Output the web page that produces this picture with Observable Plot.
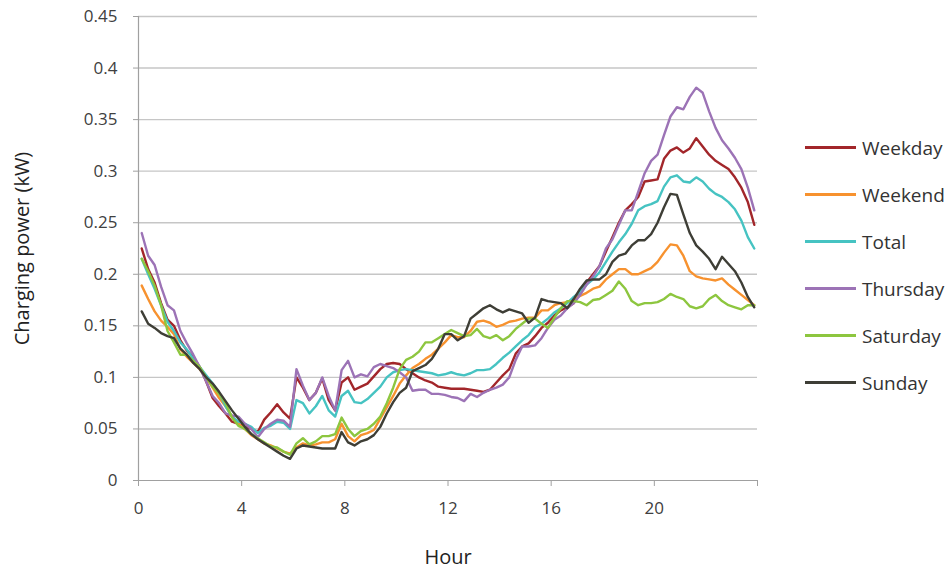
<!DOCTYPE html>
<html><head><meta charset="utf-8">
<script src="https://cdn.jsdelivr.net/npm/d3@7"></script>
<script src="https://cdn.jsdelivr.net/npm/@observablehq/plot@0.6"></script>
<style>
body{margin:0;background:#fff;font-family:"Open Sans",sans-serif;}
#wrap{position:relative;width:947px;height:574px;}
#legend{position:absolute;left:805px;top:124px;}
.item{display:flex;align-items:center;height:47px;}
.sw{width:51px;height:3px;margin-right:6px;}
.lab{font-size:19px;color:#333;}
</style></head><body>
<div id="wrap"><div id="chart"></div><div id="legend"></div></div>
<script>
// quarter-hour time grid (interval midpoints)
const hours = d3.range(96).map(i => 0.125 + i * 0.25);

const seriesNames = ["Weekday", "Weekend", "Total", "Thursday", "Saturday", "Sunday"];
const seriesColors = ["#A2262A", "#F7922F", "#46C3C2", "#9C73B6", "#8DC63F", "#3E3E36"];
const xTicks = [0, 4, 8, 12, 16, 20, 24];
const yTicks = [0, 0.05, 0.1, 0.15, 0.2, 0.25, 0.3, 0.35, 0.4, 0.45];

const weekday = [0.225,0.205,0.192,0.172,0.156,0.15,0.136,0.126,0.12,0.11,0.096,0.08,0.072,0.065,0.057,0.055,
0.052,0.05,0.047,0.059,0.066,0.074,0.066,0.06,0.1,0.09,0.078,0.085,0.099,0.078,0.068,0.095,
0.1,0.088,0.091,0.094,0.101,0.108,0.113,0.114,0.113,0.108,0.104,0.1,0.097,0.095,0.091,0.09,
0.089,0.089,0.089,0.088,0.087,0.086,0.088,0.095,0.102,0.108,0.123,0.13,0.133,0.14,0.148,0.153,
0.16,0.165,0.168,0.172,0.182,0.192,0.2,0.208,0.222,0.236,0.25,0.262,0.268,0.275,0.29,0.291,
0.292,0.312,0.32,0.323,0.318,0.322,0.332,0.324,0.316,0.31,0.306,0.302,0.294,0.284,0.27,0.248];

const weekend = [0.189,0.176,0.164,0.155,0.149,0.142,0.127,0.12,0.114,0.108,0.1,0.09,0.08,0.072,0.062,0.055,
0.05,0.044,0.04,0.036,0.034,0.031,0.028,0.026,0.032,0.036,0.034,0.035,0.037,0.037,0.04,0.055,
0.043,0.038,0.044,0.046,0.049,0.06,0.071,0.082,0.094,0.102,0.109,0.113,0.118,0.122,0.128,0.134,
0.141,0.139,0.139,0.145,0.154,0.155,0.153,0.149,0.151,0.154,0.155,0.157,0.158,0.158,0.165,0.165,
0.17,0.172,0.173,0.176,0.179,0.182,0.186,0.188,0.195,0.2,0.205,0.205,0.2,0.2,0.203,0.206,
0.212,0.221,0.229,0.228,0.218,0.203,0.198,0.196,0.195,0.194,0.196,0.19,0.185,0.18,0.175,0.17];

const total = [0.215,0.2,0.186,0.17,0.154,0.145,0.134,0.127,0.118,0.11,0.102,0.094,0.085,0.072,0.062,0.057,
0.055,0.052,0.046,0.051,0.053,0.057,0.056,0.05,0.078,0.075,0.065,0.072,0.082,0.068,0.062,0.082,
0.087,0.076,0.075,0.079,0.085,0.091,0.1,0.105,0.107,0.108,0.107,0.106,0.105,0.104,0.102,0.103,
0.105,0.103,0.102,0.104,0.107,0.107,0.108,0.113,0.119,0.124,0.13,0.136,0.141,0.149,0.152,0.157,
0.163,0.167,0.172,0.178,0.183,0.19,0.195,0.202,0.212,0.222,0.231,0.239,0.249,0.262,0.266,0.268,
0.271,0.285,0.294,0.296,0.29,0.289,0.294,0.29,0.283,0.278,0.275,0.27,0.263,0.252,0.236,0.225];

const thursday = [0.24,0.218,0.209,0.188,0.17,0.165,0.145,0.133,0.122,0.11,0.096,0.082,0.075,0.065,0.063,0.062,
0.055,0.05,0.042,0.05,0.055,0.059,0.058,0.052,0.108,0.092,0.078,0.085,0.1,0.082,0.068,0.107,
0.116,0.1,0.103,0.101,0.11,0.113,0.111,0.109,0.105,0.1,0.087,0.088,0.088,0.084,0.084,0.083,
0.081,0.08,0.077,0.084,0.081,0.085,0.088,0.09,0.093,0.1,0.117,0.13,0.13,0.131,0.138,0.148,
0.156,0.16,0.167,0.172,0.18,0.19,0.198,0.208,0.225,0.234,0.248,0.262,0.262,0.28,0.298,0.31,
0.316,0.335,0.353,0.362,0.36,0.372,0.381,0.376,0.358,0.342,0.33,0.322,0.313,0.302,0.284,0.262];

const saturday = [0.215,0.203,0.189,0.17,0.145,0.134,0.122,0.122,0.116,0.11,0.1,0.091,0.084,0.075,0.061,0.053,
0.05,0.045,0.041,0.037,0.033,0.032,0.028,0.025,0.036,0.041,0.035,0.038,0.043,0.043,0.045,0.061,
0.05,0.043,0.048,0.05,0.055,0.062,0.075,0.09,0.108,0.117,0.12,0.125,0.134,0.134,0.138,0.142,
0.146,0.143,0.14,0.141,0.147,0.14,0.138,0.141,0.136,0.14,0.147,0.152,0.157,0.157,0.152,0.148,
0.158,0.167,0.174,0.174,0.173,0.17,0.175,0.176,0.18,0.184,0.193,0.186,0.174,0.17,0.172,0.172,
0.173,0.176,0.181,0.178,0.176,0.169,0.167,0.169,0.176,0.18,0.174,0.17,0.168,0.166,0.17,0.17];

const sunday = [0.164,0.152,0.148,0.143,0.14,0.138,0.128,0.122,0.114,0.108,0.1,0.094,0.086,0.077,0.068,0.06,
0.052,0.045,0.04,0.036,0.032,0.028,0.024,0.021,0.031,0.034,0.033,0.032,0.031,0.031,0.031,0.047,
0.037,0.034,0.038,0.04,0.044,0.052,0.065,0.076,0.085,0.09,0.106,0.109,0.112,0.118,0.128,0.142,
0.142,0.136,0.14,0.157,0.162,0.167,0.17,0.166,0.163,0.166,0.164,0.162,0.153,0.158,0.176,0.174,
0.173,0.172,0.167,0.176,0.186,0.194,0.195,0.195,0.2,0.212,0.218,0.22,0.228,0.233,0.233,0.239,
0.25,0.265,0.278,0.277,0.258,0.24,0.228,0.222,0.215,0.205,0.217,0.21,0.203,0.192,0.178,0.168];

const seriesValues = [weekday, weekend, total, thursday, saturday, sunday];
const rows = [];
seriesNames.forEach((name, s) => {
  seriesValues[s].forEach((v, i) => rows.push({series: name, hour: hours[i], value: v}));
});

const font = '"Open Sans", sans-serif';
const chart = Plot.plot({
  width: 947,
  height: 574,
  marginLeft: 138,
  marginRight: 190,
  marginTop: 16,
  marginBottom: 94,
  style: {fontFamily: font, fontSize: "17px", color: "#404040", background: "#fff"},
  x: {domain: [0, 24]},
  y: {domain: [0, 0.45]},
  color: {domain: seriesNames, range: seriesColors},
  marks: [
    Plot.gridY(yTicks.slice(1), {stroke: "#c6c6c6", strokeOpacity: 1, strokeWidth: 1.4}),
    Plot.ruleX([0], {stroke: "#a0a0a0", strokeWidth: 1.2}),
    Plot.ruleY([0], {stroke: "#a0a0a0", strokeWidth: 1.2}),
    Plot.axisY(yTicks, {tickSize: 5, tickPadding: 16, stroke: "#a0a0a0", label: null,
      tickFormat: d => String(+d.toFixed(2))}),
    Plot.axisX(xTicks, {tickSize: 6, tickPadding: 15, stroke: "#a0a0a0", label: null,
      tickFormat: d => d === 24 ? "" : String(d)}),
    Plot.text(["Charging power (kW)"], {frameAnchor: "left", dx: -116, rotate: -90,
      fontSize: 20, fill: "#222", textAnchor: "middle", lineAnchor: "middle"}),
    Plot.text(["Hour"], {frameAnchor: "bottom", dy: 77, fontSize: 20, fill: "#222",
      textAnchor: "middle", lineAnchor: "middle"}),
    Plot.line(rows, {x: "hour", y: "value", z: "series", stroke: "series", strokeWidth: 2.4,
      strokeLinejoin: "round"})
  ]
});
document.getElementById("chart").appendChild(chart);

const legend = document.getElementById("legend");
seriesNames.forEach((name, s) => {
  const item = document.createElement("div");
  item.className = "item";
  const sw = document.createElement("div");
  sw.className = "sw";
  sw.style.background = seriesColors[s];
  const lab = document.createElement("span");
  lab.className = "lab";
  lab.textContent = name;
  item.appendChild(sw);
  item.appendChild(lab);
  legend.appendChild(item);
});
</script>
</body></html>
